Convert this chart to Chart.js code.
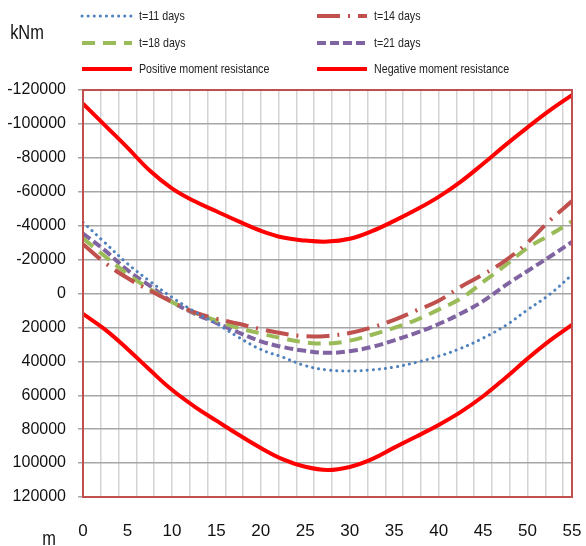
<!DOCTYPE html>
<html>
<head>
<meta charset="utf-8">
<script src="https://cdn.jsdelivr.net/npm/chart.js@4/dist/chart.umd.min.js"></script>
<style>
  html, body { margin: 0; padding: 0; background: #fff; }
  #wrap { width: 586px; height: 546px; }
</style>
</head>
<body>
<div id="wrap"><canvas id="momentChart"></canvas></div>
<script>
// stations along the span (m)
const stations = [0, 2.5, 5, 7.5, 10, 12.5, 15, 17.5, 20, 22.5, 25, 27.5,
                  30, 32.5, 35, 37.5, 40, 42.5, 45, 47.5, 50, 52.5, 55];

// bending moments (kNm) per age of concrete
const t11 = [-42000, -29800, -17600, -7300, 2200, 10500, 17700, 25800, 33000, 37600, 42600, 45100,
             45700, 45000, 43400, 40600, 37000, 32300, 26300, 19000, 9600, 500, -11000];
const t14 = [-29100, -18000, -9100, -1800, 5000, 11000, 14800, 17800, 21000, 23600, 25200, 25000,
             23300, 20000, 15500, 10000, 4300, -4000, -11200, -19400, -30000, -43000, -54500];
const t18 = [-32500, -21800, -11500, -2700, 5000, 11200, 16000, 20300, 23600, 26500, 28800, 29500,
             27800, 24300, 20300, 15500, 9500, 2900, -6800, -16600, -26900, -34500, -42500];
const t21 = [-35400, -25300, -13800, -4600, 4800, 11800, 17300, 23000, 28200, 31600, 33800, 35000,
             34000, 31500, 27600, 23200, 18000, 11800, 4500, -4800, -13300, -21700, -30400];

// moment resistance envelope (kNm)
const posResistance = [12000, 21300, 32700, 45000, 56800, 66500, 75000, 83300, 91100, 97800, 102200, 104100,
                       102300, 97700, 90900, 84300, 77500, 69800, 60600, 49800, 38400, 27800, 18500];
const negResistance = [-112000, -99000, -86000, -72500, -62000, -54500, -48500, -42500, -37000, -33000, -31200, -30600,
                       -32300, -36800, -42800, -49500, -57000, -66000, -76500, -87500, -98000, -108000, -117000];

const yTicks = [-120000, -100000, -80000, -60000, -40000, -20000, 0, 20000, 40000, 60000, 80000, 100000, 120000];

const FONT = "'Liberation Sans', Arial, sans-serif";

function pts(vals) {
  return stations.map((x, i) => ({ x: x, y: vals[i] }));
}

// narrow-looking text: squeeze horizontally
function squeezed(ctx, text, x, y, align) {
  ctx.save();
  ctx.translate(x, y);
  ctx.scale(0.82, 1);
  ctx.textAlign = align || 'left';
  ctx.fillText(text, 0, 0);
  ctx.restore();
}

// plot frame, two-column legend and unit captions
const extras = {
  id: 'extras',
  afterDatasetsDraw(chart) {
    const { ctx, chartArea: a } = chart;
    ctx.save();
    ctx.strokeStyle = '#c0504d';
    ctx.lineWidth = 2;
    ctx.strokeRect(a.left, a.top, a.right - a.left, a.bottom - a.top);
    ctx.restore();
  },
  afterDraw(chart) {
    const ctx = chart.ctx;
    ctx.save();
    const cols = [82, 317];
    const rows = [16, 43, 69];
    chart.data.datasets.forEach((ds, i) => {
      const x = cols[i % 2], y = rows[Math.floor(i / 2)];
      ctx.beginPath();
      ctx.strokeStyle = ds.borderColor;
      ctx.lineWidth = ds.borderWidth;
      ctx.lineCap = ds.borderCapStyle || 'butt';
      ctx.setLineDash(ds.borderDash || []);
      ctx.moveTo(x, y);
      ctx.lineTo(x + 50, y);
      ctx.stroke();
      ctx.setLineDash([]);
      ctx.fillStyle = '#222';
      ctx.font = '13px ' + FONT;
      ctx.textBaseline = 'middle';
      squeezed(ctx, ds.label, x + 57, y);
    });
    ctx.fillStyle = '#111';
    ctx.font = '20px ' + FONT;
    ctx.textBaseline = 'middle';
    squeezed(ctx, 'kNm', 27, 33, 'center');
    squeezed(ctx, 'm', 49, 539, 'center');
    ctx.restore();
  }
};

new Chart(document.getElementById('momentChart'), {
  type: 'line',
  data: {
    datasets: [
      { label: 't=11 days', data: pts(t11), borderColor: '#4f81bd', borderWidth: 3,
        borderDash: [0.1, 6], borderCapStyle: 'round' },
      { label: 't=14 days', data: pts(t14), borderColor: '#c0504d', borderWidth: 4,
        borderDash: [23, 8, 2, 8] },
      { label: 't=18 days', data: pts(t18), borderColor: '#9bbb59', borderWidth: 4,
        borderDash: [13, 8] },
      { label: 't=21 days', data: pts(t21), borderColor: '#8064a2', borderWidth: 4,
        borderDash: [9, 4] },
      { label: 'Positive moment resistance', data: pts(posResistance), borderColor: '#ff0000', borderWidth: 4 },
      { label: 'Negative moment resistance', data: pts(negResistance), borderColor: '#ff0000', borderWidth: 4 }
    ]
  },
  options: {
    responsive: true,
    maintainAspectRatio: false,
    animation: false,
    elements: { point: { radius: 0 }, line: { tension: 0.4 } },
    layout: { padding: { top: 90, right: 14, left: 0, bottom: 0 } },
    plugins: { legend: { display: false }, tooltip: { enabled: false } },
    scales: {
      x: {
        type: 'linear', min: 0, max: 55,
        afterFit(s) { s.height = 49; s.paddingLeft = 0; s.paddingRight = 0; },
        border: { display: false },
        grid: {
          drawTicks: false, lineWidth: 1.5,
          color: c => (c.tick && c.tick.value % 2 === 0 && c.tick.value > 0) ? '#d3d3d3' : 'rgba(0,0,0,0)'
        },
        ticks: {
          stepSize: 1, autoSkip: false, maxRotation: 0, minRotation: 0, padding: 24,
          color: '#111', font: { family: FONT, size: 17 },
          callback: v => (v % 5 === 0 ? v : '')
        }
      },
      y: {
        min: -120000, max: 120000, reverse: true,
        afterFit(s) { s.width = 83; },
        afterBuildTicks(s) { s.ticks = yTicks.map(v => ({ value: v })); },
        border: { display: false },
        grid: { color: '#a6a6a6', lineWidth: 1.5, tickLength: 5 },
        ticks: { padding: 12, color: '#111', font: { family: FONT, size: 16 },
                 callback: v => String(v) }
      }
    }
  },
  plugins: [extras]
});
</script>
</body>
</html>
